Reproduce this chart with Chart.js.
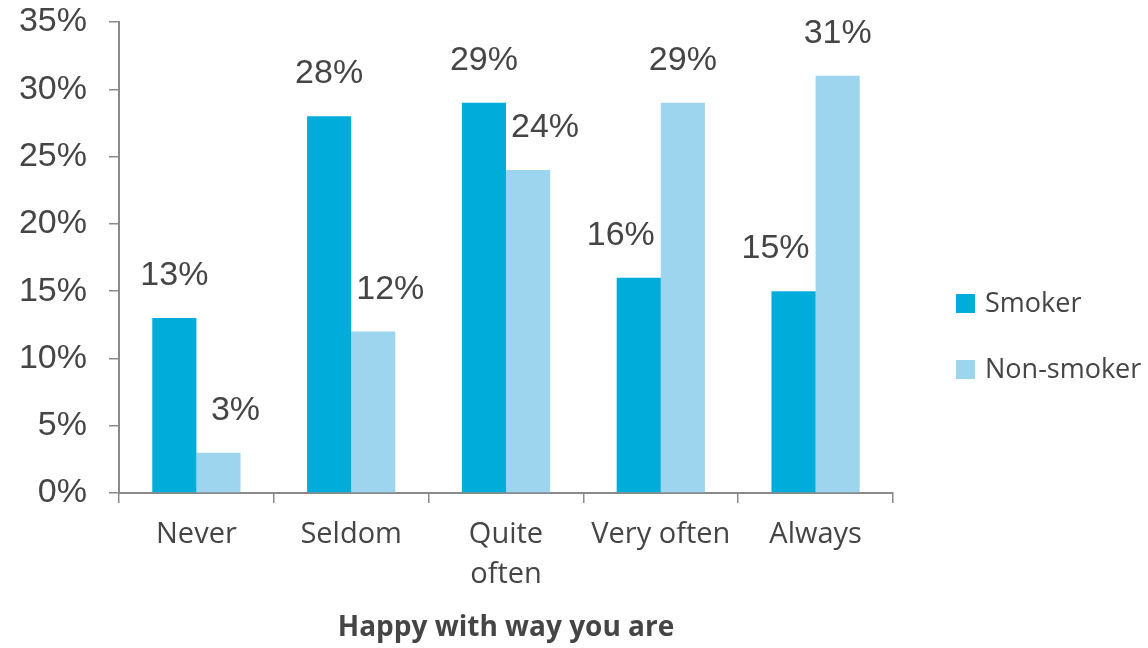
<!DOCTYPE html>
<html>
<head>
<meta charset="utf-8">
<script src="https://cdn.jsdelivr.net/npm/chart.js"></script>
<style>
  html, body { margin: 0; padding: 0; background: #fff; }
  #wrap { width: 1148px; height: 648px; }
</style>
</head>
<body>
<div id="wrap"><canvas id="chart" width="1148" height="648"></canvas></div>
<script>
const categories = ['Never', 'Seldom', ['Quite', 'often'], 'Very often', 'Always'];
const seriesNames = ['Smoker', 'Non-smoker'];
const smoker = [13, 28, 29, 16, 15];
const nonSmoker = [3, 12, 24, 29, 31];
const yTicks = [0, 5, 10, 15, 20, 25, 30, 35];

const SMOKER_COLOR = '#00acd9';
const NON_SMOKER_COLOR = '#9dd5ee';
const TEXT = '#454545';
const AXIS = '#8a8a8a';
const LABEL_FONT = '"Open Sans", sans-serif';
const NUM_FONT = '"Liberation Sans", Arial, sans-serif';

// value labels above each bar, nudged sideways when the neighbour bar is taller
const valueLabels = {
  id: 'valueLabels',
  afterDatasetsDraw(chart) {
    const ctx = chart.ctx;
    ctx.save();
    ctx.font = '34px ' + NUM_FONT;
    ctx.fillStyle = TEXT;
    ctx.textAlign = 'center';
    ctx.textBaseline = 'alphabetic';
    chart.data.datasets.forEach((ds, di) => {
      const other = chart.data.datasets[1 - di].data;
      chart.getDatasetMeta(di).data.forEach((bar, i) => {
        let dx = 0;
        if (other[i] > ds.data[i]) dx = di === 0 ? -18 : 17;
        ctx.fillText(ds.data[i] + '%', bar.x + dx, bar.y - 33);
      });
    });
    ctx.restore();
  }
};

// legend on the right side
const sideLegend = {
  id: 'sideLegend',
  afterDraw(chart) {
    const ctx = chart.ctx;
    const colors = [SMOKER_COLOR, NON_SMOKER_COLOR];
    ctx.save();
    ctx.font = '27px ' + LABEL_FONT;
    ctx.textBaseline = 'middle';
    ctx.textAlign = 'left';
    seriesNames.forEach((name, i) => {
      const cy = 304 + i * 66;
      ctx.fillStyle = colors[i];
      ctx.fillRect(956, cy - 10, 19, 19);
      ctx.fillStyle = TEXT;
      ctx.fillText(name, 985, cy);
    });
    ctx.restore();
  }
};

new Chart(document.getElementById('chart'), {
  type: 'bar',
  data: {
    labels: categories,
    datasets: [
      { label: seriesNames[0], data: smoker, backgroundColor: SMOKER_COLOR },
      { label: seriesNames[1], data: nonSmoker, backgroundColor: NON_SMOKER_COLOR }
    ]
  },
  options: {
    responsive: false,
    animation: false,
    layout: { padding: { top: 22, right: 255, bottom: 0, left: 0 } },
    datasets: { bar: { categoryPercentage: 0.57, barPercentage: 1.0 } },
    plugins: {
      legend: { display: false },
      tooltip: { enabled: false }
    },
    scales: {
      y: {
        min: 0,
        max: 35,
        afterBuildTicks(scale) { scale.ticks = yTicks.map(v => ({ value: v })); },
        afterFit(scale) {
          scale.width = 119;
          scale.paddingTop = 0;
          scale.paddingBottom = 0;
        },
        border: { color: AXIS, width: 2 },
        grid: { drawOnChartArea: false, tickLength: 10, color: AXIS, lineWidth: 1.5 },
        ticks: {
          padding: 22,
          color: TEXT,
          font: { family: NUM_FONT, size: 34 },
          callback: v => v + '%'
        }
      },
      x: {
        afterFit(scale) { scale.height = 155; },
        border: { color: AXIS, width: 2 },
        grid: { drawOnChartArea: false, tickLength: 10, color: AXIS, lineWidth: 1.5 },
        ticks: {
          padding: 12,
          color: TEXT,
          maxRotation: 0,
          font: { family: LABEL_FONT, size: 29, lineHeight: 1.38 }
        },
        title: {
          display: true,
          text: 'Happy with way you are',
          color: TEXT,
          font: { family: LABEL_FONT, size: 28, weight: 'bold' },
          padding: { top: 0, bottom: 3 }
        }
      }
    }
  },
  plugins: [valueLabels, sideLegend]
});
</script>
</body>
</html>
